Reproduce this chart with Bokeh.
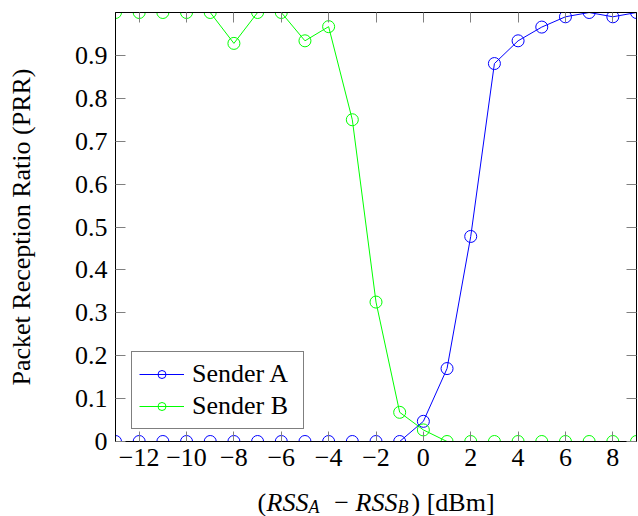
from bokeh.plotting import figure
from bokeh.layouts import column
from bokeh.models import (ColumnDataSource, FixedTicker, LinearAxis, Range1d,
                          Legend, LegendItem)
from bokeh.core.properties import value
from bokeh.embed import file_html
from bokeh.resources import INLINE

# ---------------- data ----------------
rss_diff = [-13, -12, -11, -10, -9, -8, -7, -6, -5, -4, -3, -2, -1,
            0, 1, 2, 3, 4, 5, 6, 7, 8, 9]
sender_a = [0, 0, 0, 0, 0, 0, 0, 0, 0, 0, 0, 0, 0,
            0.047, 0.17, 0.478, 0.881, 0.934, 0.966, 0.99, 1.0, 0.99, 1.0]
sender_b = [1.0, 1.0, 1.0, 1.0, 1.0, 0.928, 1.0, 1.0, 0.934, 0.967, 0.75, 0.325, 0.068,
            0.027, 0, 0, 0, 0, 0, 0, 0, 0, 0]

x_ticks = [-12, -10, -8, -6, -4, -2, 0, 2, 4, 6, 8]
x_tick_labels = ["\u221212", "\u221210", "\u22128", "\u22126", "\u22124", "\u22122",
                 "0", "2", "4", "6", "8"]
y_ticks = [0, 0.1, 0.2, 0.3, 0.4, 0.5, 0.6, 0.7, 0.8, 0.9]
y_tick_labels = ["0", "0.1", "0.2", "0.3", "0.4", "0.5", "0.6", "0.7", "0.8", "0.9"]

series_names = ["Sender A", "Sender B"]
series_colors = ["#0000ff", "#00ff00"]
y_label = "Packet Reception Ratio (PRR)"

FONT = "Liberation Serif"
FS = "26px"
LEFT, RIGHT = 115, 2

src = ColumnDataSource(dict(x=rss_diff, a=sender_a, b=sender_b))

p = figure(width=638, height=481, output_backend="svg", toolbar_location=None,
           x_range=Range1d(-13, 9), y_range=Range1d(0, 1),
           min_border_left=LEFT, min_border_right=RIGHT, min_border_top=12,
           min_border_bottom=40)
p.grid.visible = False
p.outline_line_color = "black"
p.outline_line_width = 1
p.background_fill_color = "white"
p.border_fill_color = "white"


def style_axis(ax, ticks, labels, show_labels=True):
    ax.ticker = FixedTicker(ticks=ticks)
    ax.major_tick_in = 10
    ax.major_tick_out = 0
    ax.minor_tick_line_color = None
    ax.major_tick_line_color = "#808080"
    ax.axis_line_color = "black"
    ax.major_label_text_font = FONT
    ax.major_label_text_color = "black"
    if show_labels:
        ax.major_label_text_font_size = FS
        ax.major_label_overrides = {t: l for t, l in zip(ticks, labels)}
    else:
        ax.major_label_text_font_size = "1px"
        ax.major_label_overrides = {t: "" for t in ticks}
        ax.major_label_standoff = 0


style_axis(p.xaxis[0], x_ticks, x_tick_labels)
p.xaxis[0].major_label_standoff = 7
style_axis(p.yaxis[0], y_ticks, y_tick_labels)
p.yaxis[0].major_label_standoff = 8
p.yaxis[0].axis_label = y_label
p.yaxis[0].axis_label_text_font = FONT
p.yaxis[0].axis_label_text_font_size = FS
p.yaxis[0].axis_label_text_font_style = "normal"
p.yaxis[0].axis_label_text_color = "black"
p.yaxis[0].axis_label_standoff = 36

top_axis = LinearAxis()
style_axis(top_axis, x_ticks, x_tick_labels, show_labels=False)
p.add_layout(top_axis, "above")
right_axis = LinearAxis()
style_axis(right_axis, y_ticks, y_tick_labels, show_labels=False)
p.add_layout(right_axis, "right")

ra_line = p.line("x", "a", source=src, color=series_colors[0], line_width=1)
ra_pts = p.scatter("x", "a", source=src, marker="circle", size=12,
                   fill_color=None, line_color=series_colors[0], line_width=1)
rb_line = p.line("x", "b", source=src, color=series_colors[1], line_width=1)
rb_pts = p.scatter("x", "b", source=src, marker="circle", size=12,
                   fill_color=None, line_color=series_colors[1], line_width=1)

legend = Legend(items=[LegendItem(label=series_names[0], renderers=[ra_line, ra_pts]),
                       LegendItem(label=series_names[1], renderers=[rb_line, rb_pts])],
                location=(16, 12), orientation="vertical",
                label_text_font=FONT, label_text_font_size=FS,
                label_text_color="black",
                glyph_width=45, glyph_height=20, label_height=30,
                label_width=104, label_standoff=8, padding=7, spacing=2,
                margin=0, border_line_color="black", border_line_width=1,
                background_fill_color="white", background_fill_alpha=1.0)
p.add_layout(legend, "center")

# ---- x-axis title "(RSS_A − RSS_B) [dBm]" in a strip below ----
# strip frame is aligned with the plot frame; coordinates are pixels from frame left
frame_w = 638 - LEFT - RIGHT
lab = figure(width=638, height=35, output_backend="svg", toolbar_location=None,
             x_range=Range1d(0, frame_w), y_range=Range1d(0, 35),
             min_border_left=LEFT, min_border_right=RIGHT,
             min_border_top=0, min_border_bottom=0,
             x_axis_type=None, y_axis_type=None)
lab.grid.visible = False
lab.outline_line_color = None
lab.background_fill_color = "white"
lab.border_fill_color = "white"

pieces = [
    ("(", 142, 14, "normal", FS, "left"),
    ("RSS", 151, 14, "italic", FS, "left"),
    ("A", 193, 10, "italic", "18px", "left"),
    ("\u2212", 226, 14, "normal", FS, "center"),
    ("RSS", 240, 14, "italic", FS, "left"),
    ("B", 282, 10, "italic", "18px", "left"),
    (") [dBm]", 296, 14, "normal", FS, "left"),
]
for txt, xs, ys, style, size, align in pieces:
    lab.text(x=[xs], y=[ys], text=[txt], text_font=value(FONT),
             text_font_size=value(size), text_font_style=style,
             text_color="black", text_align=align, text_baseline="alphabetic")

layout = column(p, lab, spacing=0)
open("out.html", "w").write(file_html(layout, INLINE))
